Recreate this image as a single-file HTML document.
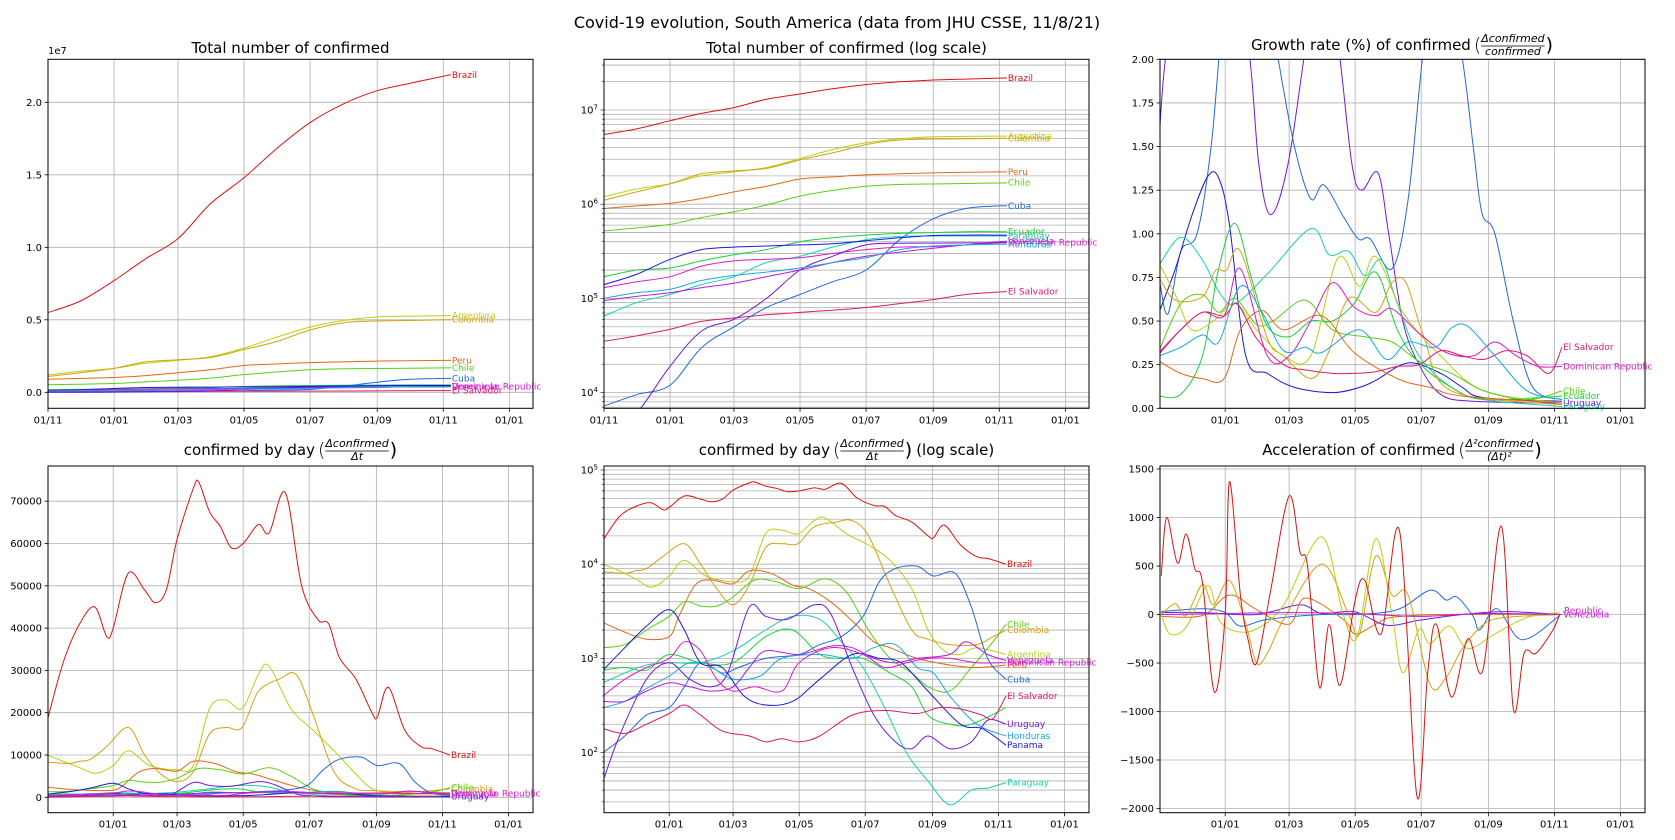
<!DOCTYPE html>
<html><head><meta charset="utf-8"><style>
html,body{margin:0;padding:0;background:#fff;overflow:hidden;}
svg{display:block;font-family:"DejaVu Sans","Liberation Sans",sans-serif;}
</style></head><body>
<svg id="chart" width="1675" height="840" viewBox="0 0 1675 840" xmlns="http://www.w3.org/2000/svg">
<rect x="0" y="0" width="1675" height="840" fill="#fff"/>
<text x="837" y="28" font-size="16" text-anchor="middle">Covid-19 evolution, South America (data from JHU CSSE, 11/8/21)</text>
</svg>
<script>
// ---------- DATA (days counted from 2020-11-01) ----------
const dateTickLabels = ['01/11','01/01','01/03','01/05','01/07','01/09','01/11','01/01'];
const dateTickDays = [0,61,120,181,242,304,365,426];

// Totals (millions)
const totalDays = [0,30,61,90,120,150,181,211,242,273,304,334,365,372];
const brazilTotal = [5.5,6.3,7.7,9.2,10.6,13.0,14.8,16.8,18.6,19.9,20.8,21.3,21.8,21.9];
const argentinaTotal = [1.2,1.45,1.65,2.0,2.2,2.45,3.05,3.8,4.5,4.95,5.2,5.25,5.28,5.29];
const colombiaTotal = [1.1,1.35,1.65,2.1,2.25,2.4,2.95,3.5,4.3,4.8,4.92,4.95,5.0,5.01];
const peruTotal = [0.9,0.96,1.02,1.15,1.35,1.55,1.85,1.95,2.05,2.1,2.15,2.18,2.2,2.2];
const chileTotal = [0.52,0.56,0.61,0.72,0.83,0.98,1.22,1.4,1.55,1.62,1.64,1.66,1.68,1.69];
const cubaTotal = [0.0072,0.0095,0.012,0.03,0.05,0.08,0.11,0.15,0.2,0.42,0.7,0.9,0.96,0.96];
const ecuadorTotal = [0.17,0.2,0.21,0.25,0.29,0.33,0.4,0.44,0.47,0.49,0.5,0.51,0.51,0.51];
const paraguayTotal = [0.065,0.09,0.11,0.14,0.17,0.24,0.28,0.35,0.42,0.455,0.46,0.46,0.46,0.46];
const venezuelaTotal = [0.095,0.105,0.115,0.13,0.145,0.17,0.2,0.24,0.28,0.31,0.34,0.37,0.4,0.405];
const domRepTotal = [0.13,0.15,0.17,0.22,0.25,0.26,0.27,0.3,0.33,0.35,0.355,0.37,0.39,0.39];
const elSalvadorTotal = [0.035,0.04,0.047,0.057,0.062,0.067,0.071,0.075,0.08,0.088,0.097,0.11,0.117,0.118];
const uruguayTotal = [0.003,0.006,0.019,0.045,0.06,0.1,0.2,0.28,0.37,0.385,0.386,0.388,0.39,0.39];
const panamaTotal = [0.14,0.18,0.26,0.33,0.35,0.36,0.37,0.38,0.41,0.44,0.465,0.47,0.47,0.47];
const hondurasTotal = [0.1,0.115,0.125,0.155,0.175,0.19,0.21,0.24,0.27,0.33,0.36,0.37,0.375,0.375];

// Daily new cases (smoothed)
const brazilDailyDays = [0,15,30,44,55,61,75,90,100,110,120,135,140,150,160,170,181,195,205,220,235,250,260,270,285,300,305,315,330,345,355,372];
const brazilDaily = [18000,32000,41000,45000,38000,40000,53000,49000,46000,49000,61000,73000,74500,67500,64000,59000,60000,64500,62500,72000,50000,42000,41000,33000,28000,20000,19000,26000,16000,12000,11500,10000];
const argentinaDailyDays = [0,15,30,45,61,75,95,120,135,150,165,180,195,205,225,245,265,285,300,315,330,345,372];
const argentinaDaily = [10000,8500,7000,5700,7500,11000,7500,6500,7500,21000,23000,21000,29000,31000,21000,16000,11000,5500,2000,1200,1100,1300,1100];
const colombiaDailyDays = [0,20,30,40,55,75,90,105,120,135,150,165,180,195,215,230,245,265,285,300,320,345,360,372];
const colombiaDaily = [8300,8000,8500,9000,12000,16500,10000,5500,3700,6000,15000,16500,16500,25000,28000,29000,20000,6000,2000,1600,1400,1400,1700,2000];
const peruDailyDays = [0,20,40,61,70,85,100,120,135,155,175,190,210,230,250,265,290,320,345,372];
const peruDaily = [2400,1900,1600,1700,2800,6000,6800,6200,8500,8000,6000,5500,4000,2500,1500,1300,1000,850,800,850];
const chileDailyDays = [0,20,40,61,75,90,105,120,140,160,181,205,225,245,265,285,300,320,340,360,372];
const chileDaily = [1300,1400,2000,2800,4000,3600,3600,4500,6800,6500,5500,7000,5000,2000,1000,700,500,450,800,1500,2300];
const cubaDailyDays = [0,20,40,61,75,90,110,125,150,181,200,220,240,255,270,290,305,325,340,355,372];
const cubaDaily = [100,150,250,300,500,900,700,800,1000,1100,1400,1700,2800,6500,9000,9500,7500,8000,3500,1000,600];
const ecuadorDailyDays = [0,20,40,61,90,120,150,175,200,220,240,265,285,300,320,340,372];
const ecuadorDaily = [750,800,750,1100,900,900,1700,2000,1100,1000,1000,700,500,250,200,200,300];
const paraguayDailyDays = [0,20,40,61,90,120,150,175,200,220,240,260,280,300,320,340,355,372];
const paraguayDaily = [550,700,850,900,900,1200,2000,2800,2600,1500,800,300,100,50,28,40,42,48];
const uruguayDailyDays = [0,15,40,61,80,100,115,135,150,170,195,210,230,250,270,285,300,320,340,355,372];
const uruguayDaily = [50,150,600,900,600,500,700,3500,2800,2600,3700,3000,800,250,130,110,150,110,130,220,200];
const hondurasDailyDays = [0,20,40,61,80,100,120,145,165,200,230,250,270,290,305,320,345,372];
const hondurasDaily = [300,350,480,650,900,800,600,650,1000,1100,1000,1300,1400,800,700,400,200,150];
const panamaDailyDays = [0,20,40,61,75,90,110,130,150,175,200,230,255,275,300,330,350,372];
const panamaDaily = [750,1300,2200,3300,2000,900,800,400,320,350,600,1100,1000,900,450,200,180,120];
const venezuelaDailyDays = [0,20,40,61,80,100,120,135,150,181,210,230,250,270,290,320,335,355,372];
const venezuelaDaily = [350,350,450,550,500,450,500,800,1200,1100,1350,1300,1000,900,1000,1100,1500,1100,950];
const domRepDailyDays = [0,20,40,61,75,90,105,120,140,165,181,210,240,260,280,300,320,345,372];
const domRepDaily = [400,600,800,1000,1500,1200,600,450,500,450,900,1300,1100,800,900,1000,1000,900,900];
const elSalvadorDailyDays = [0,20,40,61,75,90,110,135,150,165,181,200,230,260,290,310,330,350,360,372];
const elSalvadorDaily = [180,160,200,260,320,250,170,150,130,140,130,150,250,280,260,300,290,250,230,400];

// Growth rate (%)
const growthUruguayDays = [0,8,30,60,82,92,103,119,136,150,165,178,187,202,212,225,240,260,290,372];
const growthUruguay = [1.55,2.1,2.6,2.8,2.1,1.4,1.11,1.4,2.1,2.6,2.1,1.4,1.25,1.35,1.0,0.5,0.25,0.08,0.04,0.03];
const growthCubaDays = [0,8,20,35,48,58,70,95,110,125,140,152,170,184,195,215,230,245,262,280,290,298,310,327,345,372];
const growthCuba = [0.75,0.54,0.9,1.0,1.5,2.2,2.8,2.6,2.0,1.5,1.2,1.28,1.1,0.97,0.97,0.8,1.2,2.1,2.6,2.0,1.5,1.12,1.0,0.5,0.12,0.05];
const growthPanamaDays = [0,15,30,45,55,65,80,100,125,160,185,200,230,260,280,300,372];
const growthPanama = [0.55,0.8,1.1,1.33,1.32,1.05,0.3,0.2,0.12,0.09,0.12,0.16,0.26,0.2,0.12,0.06,0.04];
const growthParaguayDays = [0,20,40,55,70,100,140,157,175,190,205,220,240,270,300,372];
const growthParaguay = [0.82,0.98,0.85,0.67,0.6,0.77,1.03,0.88,0.9,0.76,0.85,0.6,0.3,0.12,0.05,0.01];
const growthEcuadorDays = [0,20,40,55,70,85,100,120,140,160,180,200,220,240,270,300,372];
const growthEcuador = [0.07,0.08,0.3,0.8,1.06,0.75,0.47,0.41,0.5,0.5,0.6,0.78,0.45,0.26,0.12,0.05,0.07];
const growthColombiaDays = [0,15,40,52,62,75,100,115,140,155,175,200,215,228,245,270,372];
const growthColombia = [0.75,0.62,0.64,0.79,0.79,0.9,0.4,0.3,0.17,0.3,0.63,0.55,0.72,0.72,0.4,0.1,0.02];
const growthArgentinaDays = [0,15,30,50,70,90,115,140,165,185,200,225,260,300,372];
const growthArgentina = [0.83,0.65,0.45,0.5,0.6,0.45,0.3,0.3,0.86,0.7,0.87,0.55,0.3,0.1,0.03];
const growthChileDays = [0,20,40,55,70,90,105,135,160,190,215,240,270,300,340,372];
const growthChile = [0.33,0.6,0.65,0.55,0.63,0.48,0.5,0.62,0.45,0.41,0.38,0.27,0.2,0.1,0.05,0.1];
const growthPeruDays = [0,20,40,60,75,95,115,150,180,220,250,280,372];
const growthPeru = [0.27,0.2,0.17,0.17,0.45,0.56,0.45,0.53,0.32,0.17,0.12,0.07,0.03];
const growthDomRepDays = [0,20,40,60,75,100,120,140,160,180,200,215,240,265,290,310,330,350,372];
const growthDomRep = [0.32,0.45,0.55,0.53,0.8,0.3,0.3,0.5,0.72,0.58,0.53,0.57,0.43,0.32,0.3,0.38,0.3,0.24,0.24];
const growthElSalvadorDays = [0,20,40,60,72,90,115,135,160,180,200,220,240,260,280,300,320,340,360,372];
const growthElSalvador = [0.31,0.45,0.55,0.53,0.6,0.4,0.25,0.22,0.2,0.2,0.21,0.24,0.25,0.33,0.3,0.28,0.33,0.3,0.2,0.35];
const growthHondurasDays = [0,20,40,55,75,95,115,135,150,185,210,230,255,270,285,310,340,372];
const growthHonduras = [0.3,0.35,0.42,0.38,0.7,0.55,0.33,0.35,0.32,0.45,0.28,0.38,0.35,0.46,0.47,0.3,0.1,0.05];

// Acceleration
const accelBrazilDays = [2,7,17,25,33,40,51,61,65,75,82,90,103,120,130,137,148,157,167,181,190,205,222,238,248,256,270,285,299,316,327,337,348,363,370];
const accelBrazil = [400,1000,530,830,470,330,-800,0,1370,200,-250,-500,250,1220,650,500,-750,-100,-730,150,350,-200,860,-1870,-600,-100,-850,-250,-570,910,-970,-400,-400,-170,0];
const accelArgentinaDays = [2,10,25,45,55,70,90,115,150,170,183,200,215,225,240,250,268,285,310,340,370];
const accelArgentina = [0,-200,-130,300,-50,-170,-150,100,800,0,-230,780,0,-600,-150,-300,-120,-350,-200,-30,20];
const accelColombiaDays = [2,15,25,40,50,65,80,90,100,115,150,175,185,200,215,230,250,265,280,300,320,370];
const accelColombia = [0,110,-10,310,100,350,-100,-500,-400,-50,520,0,-200,600,200,200,-720,-650,-350,-100,-30,0];
const accelCubaDays = [2,40,61,75,100,150,180,220,250,265,275,290,296,312,335,370];
const accelCuba = [30,60,20,-120,-50,0,0,50,250,150,180,-20,-160,60,-260,-10];
const accelPeruDays = [2,40,65,90,120,135,170,181,200,215,260,370];
const accelPeru = [-20,-10,200,50,-100,170,-50,-200,-100,-30,0,0];
const accelVenezuelaDays = [2,60,120,180,240,300,372];
const accelVenezuela = [0,10,20,10,-20,10,0];
const accelUruguayDays = [2,40,90,130,150,180,210,240,280,320,372];
const accelUruguay = [20,20,0,100,10,30,-110,-60,0,30,0];

// ---------- RENDER ----------
const NS = 'http://www.w3.org/2000/svg';
const svg = document.getElementById('chart');
const PXD = 1.083;
function el(tag, attrs, parent){ const e=document.createElementNS(NS,tag); for(const k in attrs) e.setAttribute(k,attrs[k]); (parent||svg).appendChild(e); return e; }

const panels = [
  {id:'p1', x:48, y:59.3, w:485, h:349, kind:'lin', v0:392.3, k:14.5, ticks:[0,5,10,15,20], fmt:v=>(v/10).toFixed(1), x0day:0, mult:1},
  {id:'p2', x:604, y:59.3, w:485, h:349, kind:'log', ref:110, refExp:7, dec:94.2, lo:3.83, hi:7.54, x0day:0, mult:1e6},
  {id:'p3', x:1160, y:59.3, w:485, h:349, kind:'lin', v0:408.3, k:174.5, ticks:[0,0.25,0.5,0.75,1,1.25,1.5,1.75,2], fmt:v=>v.toFixed(2), x0day:0.8, mult:1},
  {id:'p4', x:48, y:466, w:485, h:346.7, kind:'lin', v0:797.3, k:0.00423, ticks:[0,10000,20000,30000,40000,50000,60000,70000], fmt:v=>String(v), x0day:0.8, mult:1},
  {id:'p5', x:604, y:466, w:485, h:346.7, kind:'log', ref:470, refExp:5, dec:94.2, lo:1.36, hi:5.04, x0day:0.8, mult:1},
  {id:'p6', x:1160, y:466, w:485, h:346.7, kind:'lin', v0:614.5, k:0.097, ticks:[-2000,-1500,-1000,-500,0,500,1000,1500], fmt:v=>v<0?'\u2212'+(-v):String(v), x0day:0.8, mult:1}
];
function xs(p,d){ return p.x + (d - p.x0day)*PXD; }
function ys(p,v){ if(p.kind==='log'){ return p.ref - (Math.log10(v*p.mult)-p.refExp)*p.dec; } return p.v0 - v*p.k; }
function ysRaw(p,v){ return p.ref - (Math.log10(v)-p.refExp)*p.dec; }

function smoothPath(pts){
  let d='M'+pts[0][0].toFixed(1)+','+pts[0][1].toFixed(1);
  for(let i=0;i<pts.length-1;i++){
    const p0=pts[Math.max(i-1,0)],p1=pts[i],p2=pts[i+1],p3=pts[Math.min(i+2,pts.length-1)];
    const c1=[p1[0]+(p2[0]-p0[0])/6,p1[1]+(p2[1]-p0[1])/6];
    const c2=[p2[0]-(p3[0]-p1[0])/6,p2[1]-(p3[1]-p1[1])/6];
    d+='C'+c1[0].toFixed(1)+','+c1[1].toFixed(1)+' '+c2[0].toFixed(1)+','+c2[1].toFixed(1)+' '+p2[0].toFixed(1)+','+p2[1].toFixed(1);
  }
  return d;
}

const groups = {};
panels.forEach(p=>{
  const g = el('g',{});
  
  
  groups[p.id]=g;
  const cp = el('clipPath',{id:'clip-'+p.id},g);
  el('rect',{x:p.x,y:p.y,width:p.w,height:p.h},cp);
  dateTickDays.forEach((d,i)=>{
    const x=xs(p,d); if(x<p.x-0.5||x>p.x+p.w+0.5) return;
    const gl=el('line',{x1:x,x2:x,y1:p.y,y2:p.y+p.h,stroke:'#b0b0b0','stroke-width':0.8},g);
    
    
    el('line',{x1:x,x2:x,y1:p.y+p.h,y2:p.y+p.h+3.5,stroke:'#000','stroke-width':0.8},g);
    const t=el('text',{x:x,y:p.y+p.h+15,'font-size':10,'text-anchor':'middle',fill:'#000'},g);
    t.textContent=dateTickLabels[i];
    
    
  });
  if(p.kind==='lin'){
    p.ticks.forEach(v=>{
      const y=ys(p,v);
      el('line',{x1:p.x,x2:p.x+p.w,y1:y,y2:y,stroke:'#b0b0b0','stroke-width':0.8},g);
      el('line',{x1:p.x-3.5,x2:p.x,y1:y,y2:y,stroke:'#000','stroke-width':0.8},g);
      const t=el('text',{x:p.x-6,y:y+3.5,'font-size':10,'text-anchor':'end'},g);
      t.textContent=p.fmt(v);
      
      
    });
  } else {
    for(let e=Math.floor(p.lo);e<=Math.ceil(p.hi);e++){
      for(let m=1;m<=9;m++){
        const lg=e+Math.log10(m); if(lg<p.lo||lg>p.hi) continue;
        const y=ysRaw(p,Math.pow(10,lg));
        el('line',{x1:p.x,x2:p.x+p.w,y1:y,y2:y,stroke:'#b0b0b0','stroke-width':0.8},g);
        el('line',{x1:p.x-(m===1?3.5:2),x2:p.x,y1:y,y2:y,stroke:'#000','stroke-width':0.6},g);
        if(m===1){
          const t=el('text',{x:p.x-6,y:y+3.5,'font-size':10,'text-anchor':'end'},g);
          
          
          const a=el('tspan',{},t); a.textContent='10';
          const b=el('tspan',{dy:-4,'font-size':7},t); b.textContent=String(e);
        }
      }
    }
  }
});

function drawSeries(p, name, days, vals, color, label){
  const g=groups[p.id];
  const pts=days.map((d,i)=>[xs(p,d), ys(p,vals[i])]);
  const path=el('path',{d:smoothPath(pts),fill:'none',stroke:color,'stroke-width':1,'clip-path':'url(#clip-'+p.id+')'},g);
  
  
  if(label){
    const last=pts[pts.length-1];
    const t=el('text',{x:last[0]+1,y:last[1]+3,'font-size':9,fill:color},g);
    t.textContent=name;
    
    
  }
}

const C = {Brazil:'#e01010',Argentina:'#b8d010',Colombia:'#d8a010',Peru:'#e06818',Chile:'#58d010',Cuba:'#2068e0',Ecuador:'#18d038',Paraguay:'#18d0b0',Venezuela:'#b818e0','Dominican Republic':'#e018c8','El Salvador':'#e01868',Uruguay:'#7018e0',Panama:'#1818e0',Honduras:'#18a8e0'};

const totals = [['Brazil',brazilTotal],['Argentina',argentinaTotal],['Colombia',colombiaTotal],['Peru',peruTotal],['Chile',chileTotal],['Cuba',cubaTotal],['Ecuador',ecuadorTotal],['Paraguay',paraguayTotal],['Venezuela',venezuelaTotal],['Dominican Republic',domRepTotal],['El Salvador',elSalvadorTotal],['Uruguay',uruguayTotal],['Panama',panamaTotal],['Honduras',hondurasTotal]];
const p1Labels=['Brazil','Argentina','Colombia','Peru','Chile','Cuba','Venezuela','Dominican Republic','El Salvador'];
const p2Labels=['Brazil','Argentina','Colombia','Peru','Chile','Cuba','Ecuador','Paraguay','Venezuela','Dominican Republic','Honduras','El Salvador'];
totals.forEach(([n,v])=>{
  drawSeries(panels[0],n,totalDays,v,C[n],p1Labels.includes(n));
  drawSeries(panels[1],n,totalDays,v,C[n],p2Labels.includes(n));
});

const growth = [['Uruguay',growthUruguayDays,growthUruguay],['Cuba',growthCubaDays,growthCuba],['Panama',growthPanamaDays,growthPanama],['Paraguay',growthParaguayDays,growthParaguay],['Ecuador',growthEcuadorDays,growthEcuador],['Colombia',growthColombiaDays,growthColombia],['Argentina',growthArgentinaDays,growthArgentina],['Chile',growthChileDays,growthChile],['Peru',growthPeruDays,growthPeru],['Dominican Republic',growthDomRepDays,growthDomRep],['El Salvador',growthElSalvadorDays,growthElSalvador],['Honduras',growthHondurasDays,growthHonduras]];
const p3Labels=['El Salvador','Dominican Republic','Chile','Ecuador','Uruguay','Paraguay'];
growth.forEach(([n,d,v])=>drawSeries(panels[2],n,d,v,C[n],p3Labels.includes(n)));

const daily = [['Brazil',brazilDailyDays,brazilDaily],['Argentina',argentinaDailyDays,argentinaDaily],['Colombia',colombiaDailyDays,colombiaDaily],['Peru',peruDailyDays,peruDaily],['Chile',chileDailyDays,chileDaily],['Cuba',cubaDailyDays,cubaDaily],['Ecuador',ecuadorDailyDays,ecuadorDaily],['Paraguay',paraguayDailyDays,paraguayDaily],['Uruguay',uruguayDailyDays,uruguayDaily],['Honduras',hondurasDailyDays,hondurasDaily],['Panama',panamaDailyDays,panamaDaily],['Venezuela',venezuelaDailyDays,venezuelaDaily],['Dominican Republic',domRepDailyDays,domRepDaily],['El Salvador',elSalvadorDailyDays,elSalvadorDaily]];
const p4Labels=['Brazil','Chile','Colombia','Venezuela','Dominican Republic','Uruguay'];
const p5Labels=['Brazil','Chile','Colombia','Argentina','Venezuela','Dominican Republic','Peru','Cuba','El Salvador','Uruguay','Honduras','Panama','Paraguay'];
daily.forEach(([n,d,v])=>{
  drawSeries(panels[3],n,d,v,C[n],p4Labels.includes(n));
  drawSeries(panels[4],n,d,v,C[n],p5Labels.includes(n));
});

const accel = [['Uruguay',accelUruguayDays,accelUruguay],['Cuba',accelCubaDays,accelCuba],['Peru',accelPeruDays,accelPeru],['Colombia',accelColombiaDays,accelColombia],['Argentina',accelArgentinaDays,accelArgentina],['Venezuela',accelVenezuelaDays,accelVenezuela],['Brazil',accelBrazilDays,accelBrazil]];
accel.forEach(([n,d,v])=>drawSeries(panels[5],n,d,v,C[n],n==='Venezuela'));
const vr=el('text',{x:xs(panels[5],372)+2,y:ys(panels[5],0)-1,'font-size':9,fill:'#e018c8'});
vr.textContent='Republic';



panels.forEach(p=>{
  const f=el('rect',{x:p.x,y:p.y,width:p.w,height:p.h,fill:'none',stroke:'#000','stroke-width':1},groups[p.id]);
  
  
});
const sci=el('text',{x:48,y:54,'font-size':10});
sci.textContent='1e7';



function title(cx, y, main, num, den, tail, name){
  const g=el('g',{});
  
  
  const t1=el('text',{x:0,y:y,'font-size':15},g); t1.textContent=main;
  let x=t1.getComputedTextLength();
  if(num){
    const po=el('text',{x:x+3,y:y+1,'font-size':19,'font-weight':'lighter'},g); po.textContent='(';
    x+=3+po.getComputedTextLength();
    const tn=el('text',{x:x,y:y-8,'font-size':11,'font-style':'italic'},g); tn.textContent=num;
    const wn=tn.getComputedTextLength();
    const td=el('text',{x:0,y:y+5,'font-size':11,'font-style':'italic','text-anchor':'middle'},g); td.textContent=den;
    td.setAttribute('x',x+wn/2);
    el('line',{x1:x,x2:x+wn,y1:y-4,y2:y-4,stroke:'#000','stroke-width':0.8},g);
    x+=wn+1;
    const pc=el('text',{x:x,y:y+1,'font-size':19},g); pc.textContent=')';
    x+=pc.getComputedTextLength();
  }
  if(tail){ const tt=el('text',{x:x+4,y:y,'font-size':15},g); tt.textContent=tail; x+=4+tt.getComputedTextLength(); }
  g.setAttribute('transform','translate('+(cx-x/2)+',0)');
}
title(290.5,53,'Total number of confirmed',null,null,null,'p1-title');
title(846.5,53,'Total number of confirmed (log scale)',null,null,null,'p2-title');
title(1402,50,'Growth rate (%) of confirmed','\u0394confirmed','confirmed',null,'p3-title');
title(290.5,455,'confirmed by day','\u0394confirmed','\u0394t',null,'p4-title');
title(846.5,455,'confirmed by day','\u0394confirmed','\u0394t','(log scale)','p5-title');
title(1402,455,'Acceleration of confirmed','\u0394\u00b2confirmed','(\u0394t)\u00b2',null,'p6-title');
</script>
</body></html>
